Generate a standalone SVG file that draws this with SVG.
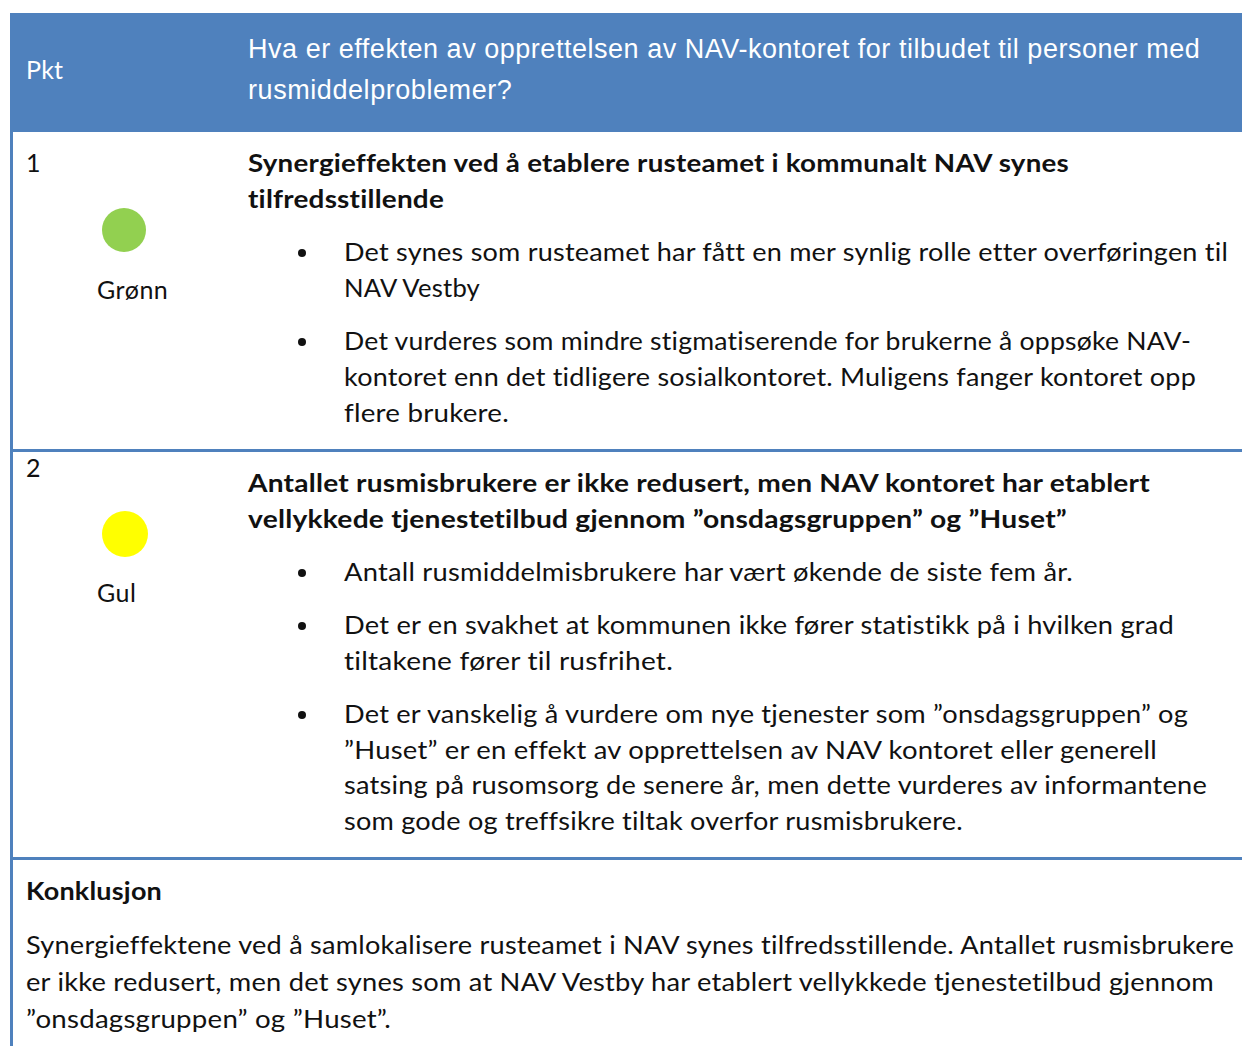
<svg xmlns="http://www.w3.org/2000/svg" width="1242" height="1046" viewBox="0 0 1242 1046">
<style>
text{font-variant-ligatures:none;font-feature-settings:"liga" 0,"clig" 0,"dlig" 0,"calt" 0;letter-spacing:0.2px}
.b{font-family:Lato,"Open Sans","Liberation Sans",sans-serif;font-size:25px;fill:#111}
.bb{font-family:Lato,"Open Sans","Liberation Sans",sans-serif;font-size:25px;font-weight:bold;fill:#111}
.h{font-family:"Liberation Sans",Arial,sans-serif;font-size:27px;fill:#fff}
.hp{font-family:Lato,"Open Sans",sans-serif;font-size:25px;fill:#fff}
.line{fill:#4F81BD}
</style>
<rect width="1242" height="1046" fill="#fff"/>
<g id="header">
<rect x="10" y="13" width="1232" height="119" fill="#4F81BD"/>
<text class="hp" x="26" y="79">Pkt</text>
<text class="h" x="248" y="58" textLength="952" lengthAdjust="spacing">Hva er effekten av opprettelsen av NAV-kontoret for tilbudet til personer med</text>
<text class="h" x="248" y="99" textLength="264" lengthAdjust="spacing">rusmiddelproblemer?</text>
</g>
<g id="borders">
<rect class="line" x="10" y="132" width="3" height="914"/>
<rect class="line" x="13" y="449" width="1229" height="3"/>
<rect class="line" x="13" y="857" width="1229" height="3"/>
</g>
<g id="row1">
<text class="b" x="26" y="172">1</text>
<circle cx="124" cy="230" r="22" fill="#92D050"/>
<text class="b" x="97" y="299" textLength="71" lengthAdjust="spacing">Grønn</text>
<text class="bb" x="248" y="172" textLength="821" lengthAdjust="spacingAndGlyphs">Synergieffekten ved å etablere rusteamet i kommunalt NAV synes</text>
<text class="bb" x="248" y="208" textLength="196" lengthAdjust="spacingAndGlyphs">tilfredsstillende</text>
<circle cx="302" cy="253" r="4" fill="#111"/>
<text class="b" x="344" y="261" textLength="884" lengthAdjust="spacingAndGlyphs">Det synes som rusteamet har fått en mer synlig rolle etter overføringen til</text>
<text class="b" x="344" y="297" textLength="136" lengthAdjust="spacingAndGlyphs">NAV Vestby</text>
<circle cx="302" cy="342" r="4" fill="#111"/>
<text class="b" x="344" y="350" textLength="847" lengthAdjust="spacingAndGlyphs">Det vurderes som mindre stigmatiserende for brukerne å oppsøke NAV-</text>
<text class="b" x="344" y="386" textLength="852" lengthAdjust="spacingAndGlyphs">kontoret enn det tidligere sosialkontoret. Muligens fanger kontoret opp</text>
<text class="b" x="344" y="422" textLength="165" lengthAdjust="spacingAndGlyphs">flere brukere.</text>
</g>
<g id="row2">
<text class="b" x="26" y="477">2</text>
<circle cx="125" cy="534" r="23" fill="#FFFF00"/>
<text class="b" x="97" y="602" textLength="39" lengthAdjust="spacing">Gul</text>
<text class="bb" x="248" y="492" textLength="902" lengthAdjust="spacingAndGlyphs">Antallet rusmisbrukere er ikke redusert, men NAV kontoret har etablert</text>
<text class="bb" x="248" y="528" textLength="819" lengthAdjust="spacingAndGlyphs">vellykkede tjenestetilbud gjennom ”onsdagsgruppen” og ”Huset”</text>
<circle cx="302" cy="573" r="4" fill="#111"/>
<text class="b" x="344" y="581" textLength="729" lengthAdjust="spacingAndGlyphs">Antall rusmiddelmisbrukere har vært økende de siste fem år.</text>
<circle cx="302" cy="626" r="4" fill="#111"/>
<text class="b" x="344" y="634" textLength="830" lengthAdjust="spacingAndGlyphs">Det er en svakhet at kommunen ikke fører statistikk på i hvilken grad</text>
<text class="b" x="344" y="670" textLength="329" lengthAdjust="spacingAndGlyphs">tiltakene fører til rusfrihet.</text>
<circle cx="302" cy="715" r="4" fill="#111"/>
<text class="b" x="344" y="723" textLength="844" lengthAdjust="spacingAndGlyphs">Det er vanskelig å vurdere om nye tjenester som ”onsdagsgruppen” og</text>
<text class="b" x="344" y="759" textLength="813" lengthAdjust="spacingAndGlyphs">”Huset” er en effekt av opprettelsen av NAV kontoret eller generell</text>
<text class="b" x="344" y="794" textLength="863" lengthAdjust="spacingAndGlyphs">satsing på rusomsorg de senere år, men dette vurderes av informantene</text>
<text class="b" x="344" y="830" textLength="619" lengthAdjust="spacingAndGlyphs">som gode og treffsikre tiltak overfor rusmisbrukere.</text>
</g>
<g id="conclusion">
<text class="bb" x="26" y="900" textLength="136" lengthAdjust="spacingAndGlyphs">Konklusjon</text>
<text class="b" x="26" y="954" textLength="1208" lengthAdjust="spacingAndGlyphs">Synergieffektene ved å samlokalisere rusteamet i NAV synes tilfredsstillende. Antallet rusmisbrukere</text>
<text class="b" x="26" y="991" textLength="1188" lengthAdjust="spacingAndGlyphs">er ikke redusert, men det synes som at NAV Vestby har etablert vellykkede tjenestetilbud gjennom</text>
<text class="b" x="26" y="1028" textLength="365" lengthAdjust="spacingAndGlyphs">”onsdagsgruppen” og ”Huset”.</text>
</g>
</svg>
